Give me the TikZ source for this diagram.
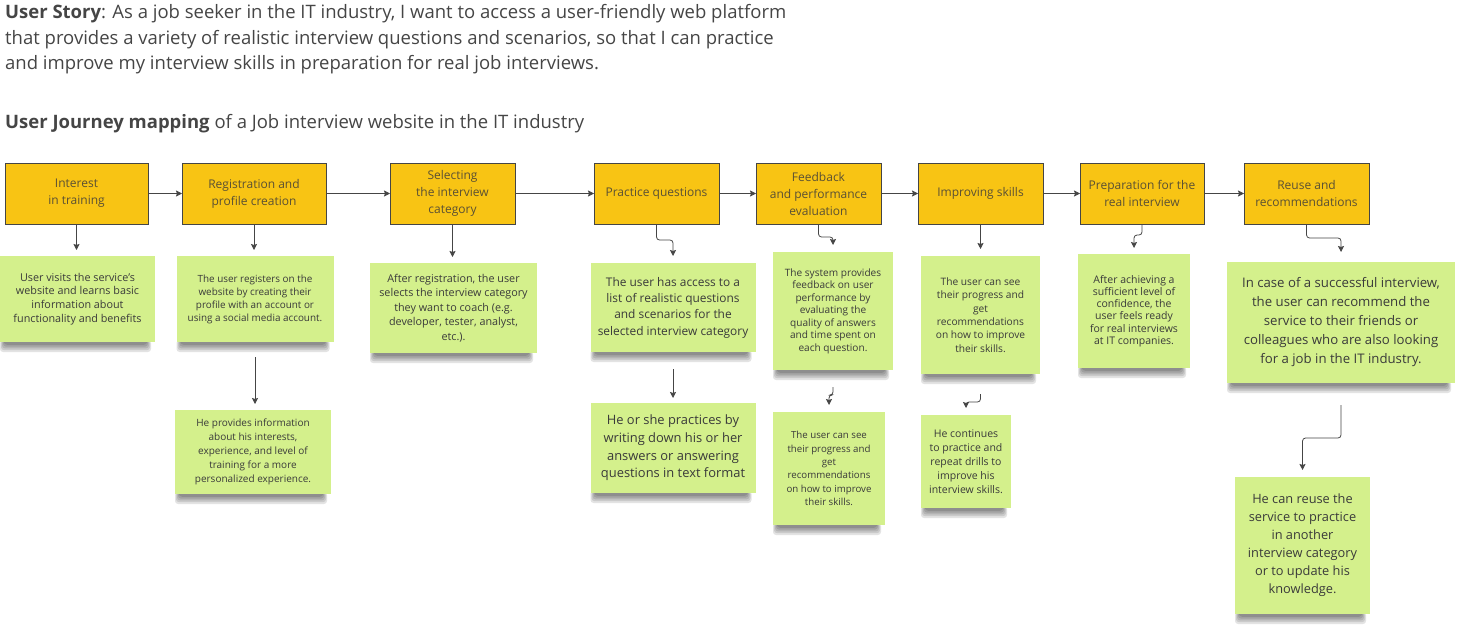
\documentclass[tikz,border=0pt]{standalone}
\usepackage{fontspec}
\setmainfont{Open Sans}
\newfontfamily\headfont{Open Sans}
\usetikzlibrary{positioning,backgrounds,arrows.meta}
\definecolor{stagefill}{HTML}{F8C414}
\definecolor{stickyfill}{HTML}{D4F08C}
\definecolor{ink}{HTML}{454545}
\definecolor{stagetext}{HTML}{5A5034}
\definecolor{notetext}{HTML}{3A3A3A}
\newcommand{\fsz}[2]{\fontsize{#1}{#2}\selectfont}

\begin{document}
\begin{tikzpicture}[x=1pt, y=1pt,
    stage/.style={draw=ink, line width=0.9pt, fill=stagefill, minimum height=61pt, inner sep=0pt, outer sep=0pt, align=center, text=stagetext, font=\fsz{12}{17}},
    note/.style={fill=stickyfill, inner sep=0pt, outer sep=0pt, align=center, text=notetext},
    link/.style={draw=ink, line width=0.8pt, rounded corners=3pt, -{Stealth[length=6pt, width=6pt, inset=1pt]}}]
    \useasboundingbox (0,0) rectangle (1463,-637);

    % story
    \node[anchor=north west, inner sep=0pt, align=left, text=ink, font=\headfont\fsz{18.5}{25.8}] (story) at (5,-4)
        {\textbf{User Story}: As a job seeker in the IT industry, I want to access a user-friendly web platform\\
         that provides a variety of realistic interview questions and scenarios, so that I can practice\\
         and improve my interview skills in preparation for real job interviews.};
    \node[anchor=north west, inner sep=0pt, align=left, text=ink, font=\headfont\fsz{18.5}{25.8}] (title) at (5,-114)
        {\textbf{User Journey mapping} of a Job interview website in the IT industry};

    % stages
    \node[stage, minimum width=143pt, anchor=north west] (st1) at (5,-163) {Interest\\in training};
    \node[stage, minimum width=144pt, right=34pt of st1] (st2) {Registration and\\profile creation};
    \node[stage, minimum width=125pt, right=64pt of st2] (st3) {Selecting\\the interview\\category};
    \node[stage, minimum width=125pt, right=79pt of st3] (st4) {Practice questions};
    \node[stage, minimum width=125pt, right=37pt of st4] (st5) {Feedback\\and performance\\evaluation};
    \node[stage, minimum width=125pt, right=37pt of st5] (st6) {Improving skills};
    \node[stage, minimum width=124pt, right=37pt of st6] (st7) {Preparation for the\\real interview};
    \node[stage, minimum width=125pt, right=40pt of st7] (st8) {Reuse and\\recommendations};

    % notes
    \node[note, minimum width=155pt, minimum height=86pt, below=32pt of st1, xshift=1pt, font=\fsz{10.8}{13.7}] (n1)
        {User visits the service's\\website and learns basic\\information about\\functionality and benefits};
    \node[note, minimum width=157pt, minimum height=86pt, below=32pt of st2, xshift=1pt, font=\fsz{9.9}{13}] (n2)
        {The user registers on the\\website by creating their\\profile with an account or\\using a social media account.};
    \node[note, minimum width=167pt, minimum height=90pt, below=39pt of st3, xshift=1pt, font=\fsz{10.8}{14.6}] (n3)
        {After registration, the user\\selects the interview category\\they want to coach (e.g.\\developer, tester, analyst,\\etc.).};
    \node[note, minimum width=165pt, minimum height=89pt, below=39pt of st4, xshift=16.5pt, font=\fsz{11.9}{16.3}] (n4)
        {The user has access to a\\list of realistic questions\\and scenarios for the\\selected interview category};
    \node[note, minimum width=120pt, minimum height=118pt, below=28pt of st5, xshift=14.5pt, font=\fsz{10.1}{12.5}] (n5)
        {The system provides\\feedback on user\\performance by\\evaluating the\\quality of answers\\and time spent on\\each question.};
    \node[note, minimum width=119pt, minimum height=118pt, below=32pt of st6, font=\fsz{10.2}{13.3}] (n6)
        {The user can see\\their progress and\\get\\recommendations\\on how to improve\\their skills.};
    \node[note, minimum width=112pt, minimum height=114pt, below=30pt of st7, xshift=-8pt, font=\fsz{10.5}{12.2}] (n7)
        {After achieving a\\sufficient level of\\confidence, the\\user feels ready\\for real interviews\\at IT companies.};
    \node[note, minimum width=228pt, minimum height=121pt, below=38pt of st8, xshift=34.5pt, font=\fsz{13.2}{19}] (n8)
        {In case of a successful interview,\\the user can recommend the\\service to their friends or\\colleagues who are also looking\\for a job in the IT industry.};

    \node[note, minimum width=156pt, minimum height=84pt, below=68pt of n2, xshift=-2pt, font=\fsz{10}{14}] (n2b)
        {He provides information\\about his interests,\\experience, and level of\\training for a more\\personalized experience.};
    \node[note, minimum width=165pt, minimum height=90pt, below=51pt of n4, font=\fsz{12.9}{17.7}] (n4b)
        {He or she practices by\\writing down his or her\\answers or answering\\questions in text format};
    \node[note, minimum width=112pt, minimum height=113pt, below=42pt of n5, xshift=-4pt, font=\fsz{9.7}{13.3}] (n5b)
        {The user can see\\their progress and\\get\\recommendations\\on how to improve\\their skills.};
    \node[note, minimum width=90pt, minimum height=93pt, below=41pt of n6, xshift=-14.5pt, font=\fsz{10.5}{14}] (n6b)
        {He continues\\to practice and\\repeat drills to\\improve his\\interview skills.};
    \node[note, minimum width=135pt, minimum height=137pt, below=94pt of n8, xshift=-38.5pt, font=\fsz{12.8}{18}] (n8b)
        {He can reuse the\\service to practice\\in another\\interview category\\or to update his\\knowledge.};

    % shadows
    \begin{scope}[on background layer]
        \foreach \n in {n1,n2,n3,n4,n5,n6,n7,n8,n2b,n4b,n5b,n6b,n8b}
            \foreach \k [evaluate=\k as \dx using 10+3*\k, evaluate=\k as \dy using 10-1.8*\k] in {0,...,4}
                \fill[black, opacity=0.11, rounded corners=3pt] ([xshift=\dx pt, yshift=2pt]\n.south west) rectangle ([xshift=-\dx pt-4pt, yshift=-\dy pt]\n.south east);
    \end{scope}

    % links
    \foreach \a/\b in {st1/st2,st2/st3,st3/st4,st4/st5,st5/st6,st6/st7,st7/st8}
        \draw[link] (\a) -- (\b);

    \draw[link, shorten >=6pt] (st1.south) -- (st1.south |- n1.north);
    \draw[link, shorten >=6pt] (st2.south) -- (st2.south |- n2.north);
    \draw[link, shorten >=6pt] (st3.south) -- (st3.south |- n3.north);
    \draw[link, shorten >=7pt] (st4.south) -- ++(0,-16) -| (n4.north);
    \draw[link, shorten >=7pt] (st5.south) -- ++(0,-13) -| (n5.north);
    \draw[link, shorten >=7pt] (st6.south) -- (st6.south |- n6.north);
    \draw[link, shorten >=6pt] (st7.south) -- ++(0,-11) -| (n7.north);
    \draw[link, shorten >=10pt] (st8.south) -- ++(0,-14) -| (n8.north);

    \draw[link, shorten >=6pt] ([yshift=-15pt]n2.south) -- (n2.south |- n2b.north);
    \draw[link, shorten >=5pt] ([yshift=-17pt]n4.south) -- (n4b.north);
    \draw[link, shorten >=7pt] ([yshift=-17pt]n5.south) -- ++(0,-8) -| (n5b.north);
    \draw[link, shorten >=7pt] ([yshift=-20pt]n6.south) -- ++(0,-8) -| (n6b.north);
    \draw[link, shorten >=7pt] ([yshift=-22pt]n8.south) -- ++(0,-33) -| (n8b.north);
\end{tikzpicture}
\end{document}
